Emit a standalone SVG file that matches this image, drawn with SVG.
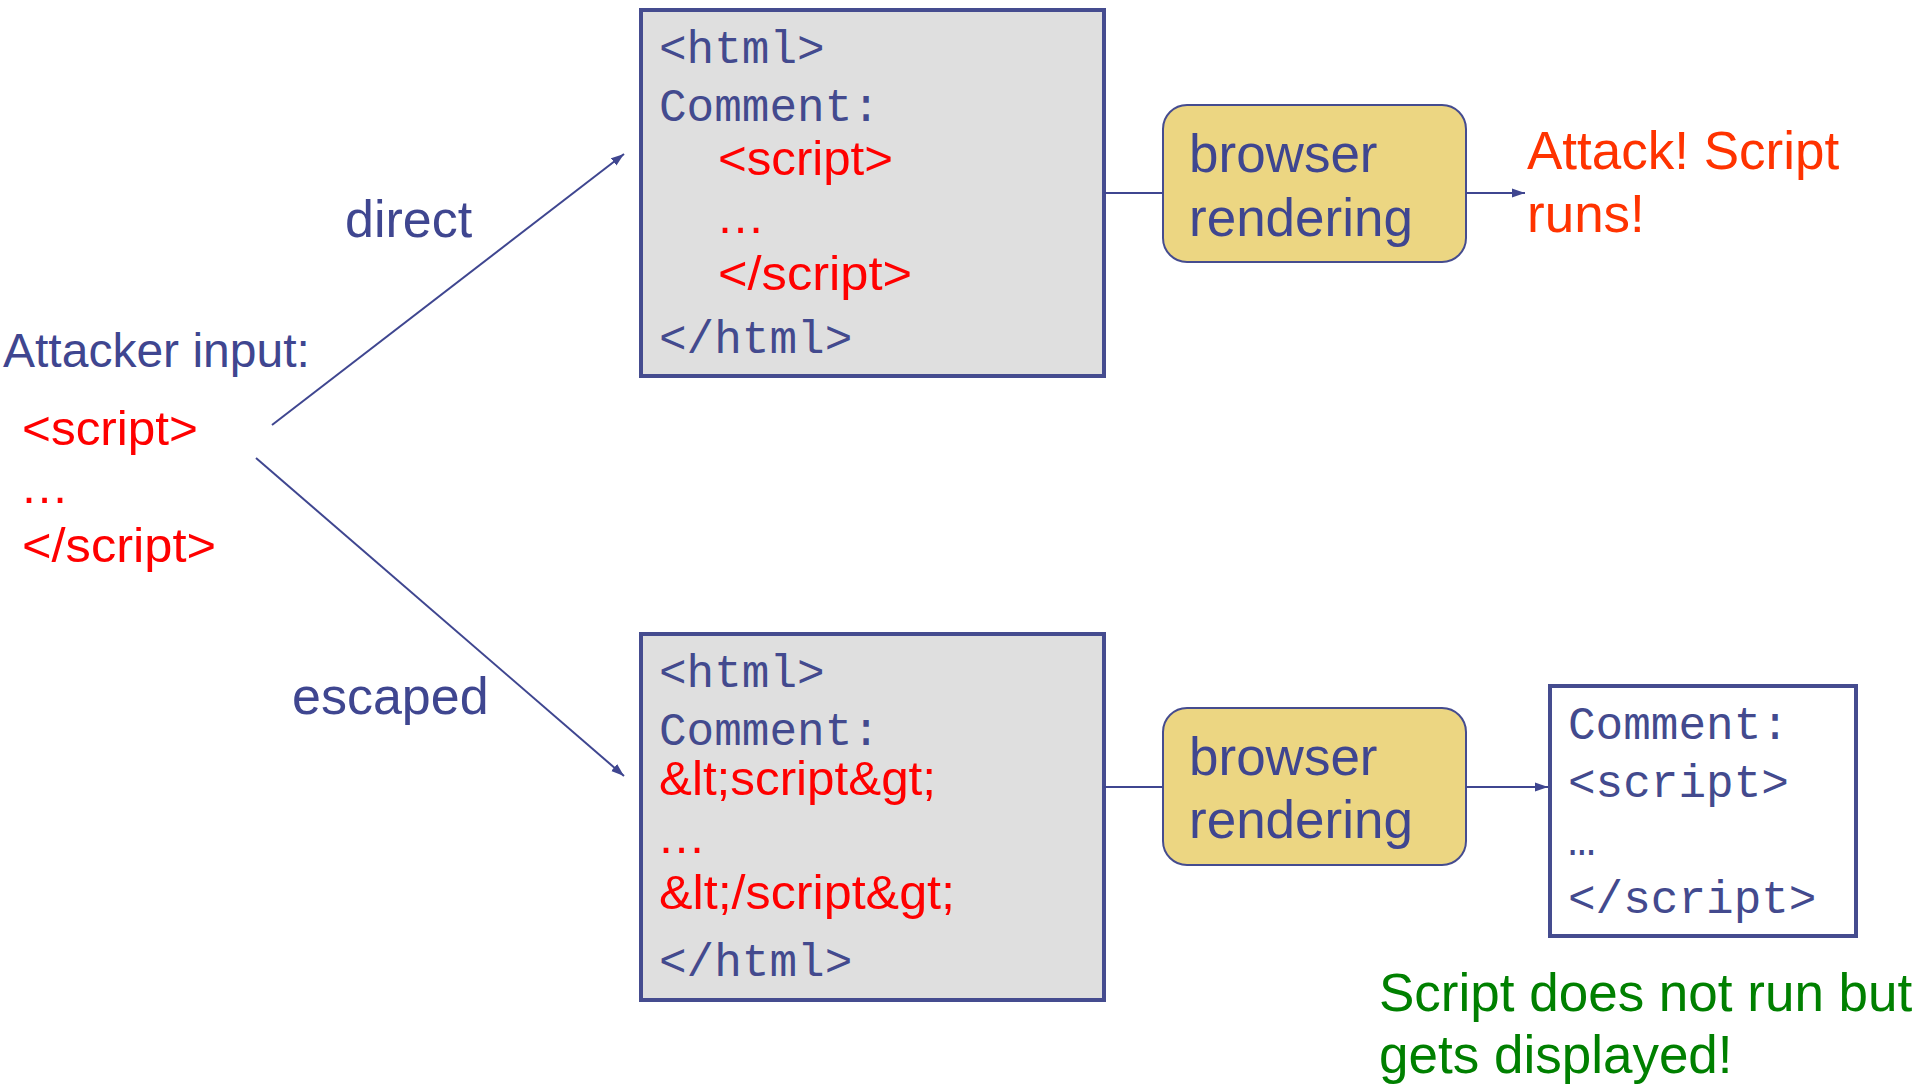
<svg xmlns="http://www.w3.org/2000/svg" width="1919" height="1086" viewBox="0 0 1919 1086">
<style>
.mono{font-family:"Liberation Mono","Courier New",monospace;font-size:46px;fill:#434a8e}
.sans{font-family:"Liberation Sans",Arial,sans-serif}
.blue{fill:#3f4690}
.red{fill:#ff0000;font-size:49px}
.box{fill:#dfdfdf;stroke:#454c8f;stroke-width:4}
.rend{fill:#ecd682;stroke:#454c8f;stroke-width:2}
.lbl{font-size:53px}
.conn line{stroke:#3f4690;stroke-width:2}
</style>
<defs>
<marker id="ah" markerUnits="userSpaceOnUse" markerWidth="14" markerHeight="10" refX="13" refY="5" orient="auto">
<path d="M0,0.5 L13,5 L0,9.5 z" fill="#3f4690"/>
</marker>
</defs>
<rect width="1919" height="1086" fill="#ffffff"/>

<g id="attacker-input">
<text class="sans blue" x="3" y="367" font-size="48">Attacker input:</text>
<text class="sans red" x="22" y="445" textLength="176" lengthAdjust="spacingAndGlyphs">&lt;script&gt;</text>
<text class="sans red" x="20" y="503" textLength="38" lengthAdjust="spacing">…</text>
<text class="sans red" x="22" y="562" textLength="194" lengthAdjust="spacingAndGlyphs">&lt;/script&gt;</text>
</g>

<g id="label-direct"><text class="sans blue" x="345" y="237" font-size="52">direct</text></g>
<g id="label-escaped"><text class="sans blue" x="292" y="714" font-size="52">escaped</text></g>

<g id="html-direct">
<rect class="box" x="641" y="10" width="463" height="366"/>
<text class="mono" x="659" y="63">&lt;html&gt;</text>
<text class="mono" x="659" y="121">Comment:</text>
<text class="sans red" x="718" y="175" textLength="175" lengthAdjust="spacingAndGlyphs">&lt;script&gt;</text>
<text class="sans red" x="716" y="233">…</text>
<text class="sans red" x="718" y="290" textLength="194" lengthAdjust="spacingAndGlyphs">&lt;/script&gt;</text>
<text class="mono" x="659" y="353">&lt;/html&gt;</text>
</g>

<g id="html-escaped">
<rect class="box" x="641" y="634" width="463" height="366"/>
<text class="mono" x="659" y="687">&lt;html&gt;</text>
<text class="mono" x="659" y="745">Comment:</text>
<text class="sans red" x="659" y="795" textLength="277" lengthAdjust="spacingAndGlyphs">&amp;lt;script&amp;gt;</text>
<text class="sans red" x="657" y="853">…</text>
<text class="sans red" x="659" y="909" textLength="296" lengthAdjust="spacingAndGlyphs">&amp;lt;/script&amp;gt;</text>
<text class="mono" x="659" y="976">&lt;/html&gt;</text>
</g>

<g id="render-top">
<rect class="rend" x="1163" y="105" width="303" height="157" rx="24" ry="24"/>
<text class="sans blue lbl" x="1189" y="172">browser</text>
<text class="sans blue lbl" x="1189" y="236">rendering</text>
</g>

<g id="render-bottom">
<rect class="rend" x="1163" y="708" width="303" height="157" rx="24" ry="24"/>
<text class="sans blue lbl" x="1189" y="775">browser</text>
<text class="sans blue lbl" x="1189" y="838">rendering</text>
</g>

<g id="result-attack">
<text class="sans lbl" fill="#ff3300" x="1527" y="169">Attack! Script</text>
<text class="sans lbl" fill="#ff3300" x="1527" y="232">runs!</text>
</g>

<g id="output-display">
<rect x="1550" y="686" width="306" height="250" fill="#ffffff" stroke="#454c8f" stroke-width="4"/>
<text class="mono" x="1568" y="739">Comment:</text>
<text class="mono" x="1568" y="797">&lt;script&gt;</text>
<text class="mono" x="1568" y="855">…</text>
<text class="mono" x="1568" y="913">&lt;/script&gt;</text>
</g>

<g id="result-safe">
<text class="sans lbl" fill="#008000" x="1379" y="1011">Script does not run but</text>
<text class="sans lbl" fill="#008000" x="1379" y="1073">gets displayed!</text>
</g>

<g id="connectors" class="conn">
<line x1="272" y1="425" x2="624" y2="154" marker-end="url(#ah)"/>
<line x1="256" y1="458" x2="624" y2="776" marker-end="url(#ah)"/>
<line x1="1104" y1="193" x2="1163" y2="193"/>
<line x1="1466" y1="193" x2="1525" y2="193" marker-end="url(#ah)"/>
<line x1="1104" y1="787" x2="1163" y2="787"/>
<line x1="1466" y1="787" x2="1548" y2="787" marker-end="url(#ah)"/>
</g>
</svg>
